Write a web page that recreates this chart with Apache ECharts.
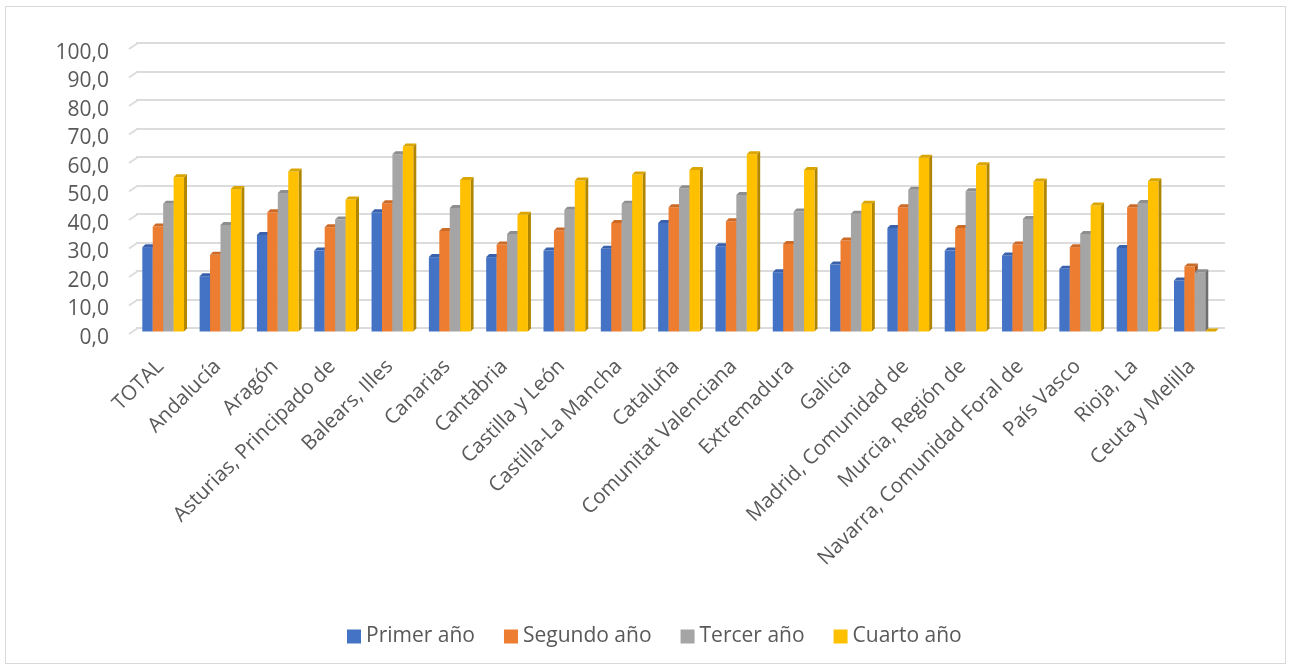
<!DOCTYPE html>
<html>
<head>
<meta charset="utf-8">
<script src="https://cdn.jsdelivr.net/npm/echarts@6/dist/echarts.min.js"></script>
<style>
html,body{margin:0;padding:0;background:#fff;}
#wrap{position:relative;width:1290px;height:668px;}
#chart{position:absolute;left:0;top:0;width:1290px;height:668px;}
#frame{position:absolute;left:5px;top:6px;width:1279px;height:656px;border:1px solid #d9d9d9;pointer-events:none;}
</style>
</head>
<body>
<div id="wrap"><div id="chart"></div><div id="frame"></div></div>
<script>
const categories = ["TOTAL","Andalucía","Aragón","Asturias, Principado de","Balears, Illes","Canarias","Cantabria","Castilla y León","Castilla-La Mancha","Cataluña","Comunitat Valenciana","Extremadura","Galicia","Madrid, Comunidad de","Murcia, Región de","Navarra, Comunidad Foral de","País Vasco","Rioja, La","Ceuta y Melilla"];
const seriesNames = ["Primer año","Segundo año","Tercer año","Cuarto año"];
const primerAno  = [29.6,19.4,33.9,28.4,41.8,26.1,26.1,28.4,29.0,38.1,29.9,20.8,23.5,36.3,28.4,26.7,22.0,29.3,17.9];
const segundoAno = [36.8,26.9,41.8,36.6,45.0,35.3,30.5,35.4,38.1,43.6,38.7,30.7,31.9,43.6,36.3,30.5,29.6,43.6,22.8];
const tercerAno  = [44.8,37.4,48.6,39.3,62.2,43.3,34.2,42.7,44.8,50.3,47.9,42.1,41.3,49.7,49.2,39.5,34.2,45.1,20.8];
const cuartoAno  = [54.1,50.0,56.1,46.3,64.9,53.2,41.0,53.0,55.1,56.7,62.2,56.7,44.8,61.0,58.3,52.6,44.2,52.7,0.0];
const yTicks = [0,10,20,30,40,50,60,70,80,90,100];

const colors = ["#4472C4","#ED7D31","#A5A5A5","#FFC000"];
const capColors = ["#3A62AC","#CC6A28","#8E8E8E","#DBA500"];
const sideColors = ["#2F5597","#A9561F","#6E6E6E","#B08600"];
const allValues = [primerAno, segundoAno, tercerAno, cuartoAno];

function makeRender(si){
  return function(params, api){
    const cat = api.value(0), v = api.value(1);
    const c = api.coord([cat, v]);
    const b = api.coord([cat, 0]);
    const band = api.size([1,0])[0];
    const bw = band * 0.182, d = 3, drop = 3.5;
    const gx = c[0] - (4*bw + d)/2 + si*bw;
    const yT = c[1] + drop, yB = b[1] + drop;
    return {
      type: 'group',
      children: [
        {type:'polygon', shape:{points:[[gx+bw,yT],[gx+bw+d,yT-d],[gx+bw+d,yB-d],[gx+bw,yB]]}, style:{fill:sideColors[si]}},
        {type:'rect', shape:{x:gx, y:yT, width:bw, height:Math.max(0,yB-yT)}, style:{fill:colors[si]}},
        {type:'polygon', shape:{points:[[gx,yT],[gx+d,yT-d],[gx+bw+d,yT-d],[gx+bw,yT]]}, style:{fill:capColors[si]}}
      ]
    };
  };
}

const series = seriesNames.map((name, si) => ({
  name: name,
  type: 'custom',
  renderItem: makeRender(si),
  itemStyle: {color: colors[si]},
  clip: false,
  encode: {x: 0, y: 1},
  data: allValues[si].map((v, i) => [i, v])
}));

// slanted floor-to-wall stubs of the gridlines (3D look)
series.unshift({
  type: 'custom',
  silent: true,
  clip: false,
  renderItem: function(params, api){
    const p = api.coord([0, api.value(0)]);
    const x0 = params.coordSys.x;
    return {type:'line', shape:{x1:x0-7, y1:p[1]+6, x2:x0+2, y2:p[1]}, style:{stroke:'#dcdcdc', lineWidth:2}};
  },
  encode: {y: 0},
  data: yTicks.map(t => [t])
});

const chart = echarts.init(document.getElementById('chart'), null, {renderer:'canvas'});
chart.setOption({
  animation: false,
  backgroundColor: '#ffffff',
  textStyle: {fontFamily: 'Open Sans'},
  grid: {left: 136, right: 65, top: 43, bottom: 340, containLabel: false},
  legend: {
    data: seriesNames,
    top: 621,
    left: 342,
    icon: 'rect',
    itemWidth: 14, itemHeight: 14, itemGap: 29,
    textStyle: {color: '#595959', fontSize: 21, fontFamily: 'Open Sans'}
  },
  xAxis: {
    type: 'category',
    data: categories,
    axisLine: {show: false},
    axisTick: {show: false},
    axisLabel: {rotate: 45, interval: 0, margin: 31, padding: [0, 6, 0, 0], color: '#595959', fontSize: 20.5, fontFamily: 'Open Sans'}
  },
  yAxis: {
    type: 'value',
    min: 0, max: 100, interval: 10,
    axisLine: {show: false},
    axisTick: {show: false},
    splitLine: {lineStyle: {color: '#dcdcdc', width: 2}},
    axisLabel: {
      margin: 27, color: '#595959', fontSize: 21, fontFamily: 'Open Sans',
      verticalAlign: 'top', lineHeight: 20,
      formatter: v => yTicks.includes(v) ? v.toFixed(1).replace('.', ',') : ''
    }
  },
  series: series
});
</script>
</body>
</html>
